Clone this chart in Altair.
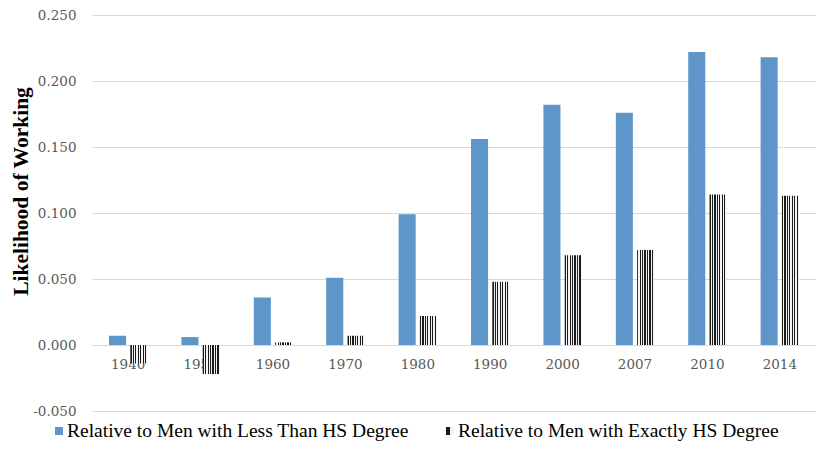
import altair as alt
import pandas as pd

years = ["1940", "1950", "1960", "1970", "1980", "1990", "2000", "2007", "2010", "2014"]
series_names = ["Relative to Men with Less Than HS Degree",
                "Relative to Men with Exactly HS Degree"]
less_hs = [0.007, 0.006, 0.036, 0.051, 0.099, 0.156, 0.182, 0.176, 0.222, 0.218]
exactly_hs = [-0.014, -0.022, 0.002, 0.007, 0.022, 0.048, 0.068, 0.072, 0.114, 0.113]
y_ticks = [-0.05, 0.0, 0.05, 0.10, 0.15, 0.20, 0.25]

rows = []
for i, yr in enumerate(years):
    rows.append({"year": yr, "series": series_names[0], "value": less_hs[i]})
    rows.append({"year": yr, "series": series_names[1], "value": exactly_hs[i]})
df = pd.DataFrame(rows)
legend_df = pd.DataFrame({"series": series_names})

BLUE = "#5e96c9"
stops = []
n = 7
for k in range(n):
    a = k / n
    b = a + 0.5 / n
    c = (k + 1) / n
    stops += [
        {"color": "#1a1a1a", "offset": a},
        {"color": "#1a1a1a", "offset": b},
        {"color": "#f4f4f4", "offset": b},
        {"color": "#f4f4f4", "offset": c},
    ]
HATCH = {"gradient": "linear", "x1": 0, "x2": 1, "y1": 0, "y2": 0, "stops": stops}

SERIF = "DejaVu Serif"
LEG_FONT = "Liberation Serif"

x_enc = alt.X(
    "year:N",
    sort=years,
    scale=alt.Scale(paddingInner=0.47, paddingOuter=0.235),
    axis=alt.Axis(
        title=None, labelAngle=0, offset=-66, ticks=False,
        domainColor="#d9d9d9", labelColor="#595959", labelFont=SERIF,
        labelFontSize=13.5, labelPadding=12, grid=False,
    ),
)
y_enc = alt.Y(
    "value:Q",
    scale=alt.Scale(domain=[-0.05, 0.25], nice=False, zero=False),
    axis=alt.Axis(
        values=y_ticks, title="Likelihood of Working",
        labelExpr="replace(format(datum.value, '.3f'), '\u2212', '-')",
        domain=False, ticks=False, gridColor="#d9d9d9", labelColor="#595959",
        labelFont=SERIF, labelFontSize=13.5, labelPadding=16,
        titleFont=LEG_FONT, titleFontSize=21.5, titleFontWeight="bold",
        titleColor="#000000", titleX=-71, titleY=176, titleAngle=-90,
        titleAlign="center", titleBaseline="middle",
    ),
)
xoff = alt.XOffset("series:N", sort=series_names,
                   scale=alt.Scale(domain=series_names, paddingInner=0.2))

base = alt.Chart(df).encode(x=x_enc, y=y_enc, xOffset=xoff)
blue_bars = base.mark_bar(fill=BLUE).transform_filter(
    alt.datum.series == series_names[0])
hatch_bars = base.mark_bar(fill=HATCH).transform_filter(
    alt.datum.series == series_names[1])

leg = alt.Chart(legend_df)
LEG_Y = 416
leg_sq1 = leg.transform_filter(alt.datum.series == series_names[0]).mark_square(
    size=64, fill=BLUE, opacity=1).encode(x=alt.value(-33), y=alt.value(LEG_Y))
leg_tx1 = leg.transform_filter(alt.datum.series == series_names[0]).mark_text(
    align="left", baseline="middle", font=LEG_FONT, fontSize=19.5, color="#000000"
).encode(x=alt.value(-25), y=alt.value(LEG_Y), text="series:N")
leg_sq2 = leg.transform_filter(alt.datum.series == series_names[1]).mark_square(
    size=64, fill=HATCH, opacity=1).encode(x=alt.value(358), y=alt.value(LEG_Y))
leg_tx2 = leg.transform_filter(alt.datum.series == series_names[1]).mark_text(
    align="left", baseline="middle", font=LEG_FONT, fontSize=19.5, color="#000000"
).encode(x=alt.value(366), y=alt.value(LEG_Y), text="series:N")

chart = alt.layer(
    blue_bars, hatch_bars, leg_sq1, leg_tx1, leg_sq2, leg_tx2
).properties(
    width=724, height=396,
    autosize=alt.AutoSizeParams(type="none"),
    padding={"left": 84, "top": 7, "right": 0, "bottom": 31},
).configure_view(stroke=None)

chart.save("out.html", embed_options={"renderer": "svg", "actions": False})
